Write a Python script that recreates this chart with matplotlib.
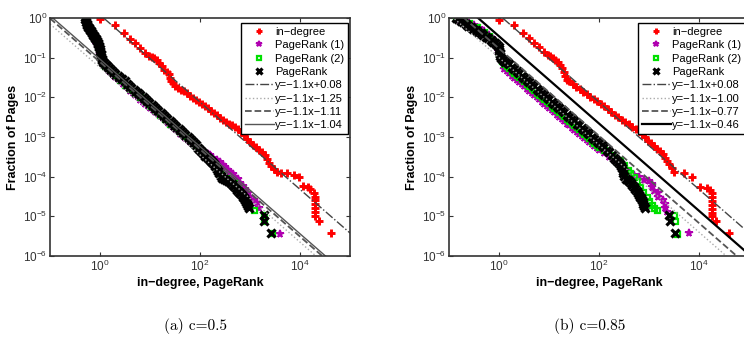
import matplotlib
matplotlib.use("Agg")
import matplotlib.pyplot as plt
import numpy as np

plt.rcParams['font.family'] = ['Liberation Sans', 'DejaVu Sans']
plt.rcParams['mathtext.fontset'] = 'custom'
plt.rcParams['mathtext.rm'] = 'Liberation Sans'
plt.rcParams['mathtext.it'] = 'Liberation Sans:italic'
plt.rcParams['mathtext.bf'] = 'Liberation Sans:bold'

# points as (log10 x, log10 y)
# ---- (a) c=0.5 ----
a_indeg = [(0.0, -0.03), (0.3, -0.18), (0.48, -0.37), (0.6, -0.52), (0.7, -0.64), (0.8, -0.76),
           (0.9, -0.89), (0.97, -0.95), (1.03, -0.98), (1.08, -1.02), (1.13, -1.06), (1.18, -1.13),
           (1.23, -1.22), (1.28, -1.3), (1.33, -1.36), (1.37, -1.42), (1.4, -1.5), (1.41, -1.58),
           (1.45, -1.65), (1.5, -1.71), (1.56, -1.76), (1.62, -1.81), (1.68, -1.85), (1.74, -1.9),
           (1.8, -1.97), (1.86, -2.02), (1.92, -2.07), (1.98, -2.12), (2.04, -2.17), (2.1, -2.23),
           (2.16, -2.28), (2.22, -2.34), (2.28, -2.4), (2.34, -2.45), (2.4, -2.51), (2.46, -2.57),
           (2.52, -2.62), (2.58, -2.66), (2.64, -2.7), (2.7, -2.74), (2.76, -2.8), (2.82, -2.87),
           (2.88, -2.95), (2.94, -3.04), (3.0, -3.13), (3.06, -3.2), (3.12, -3.26), (3.18, -3.32),
           (3.24, -3.37), (3.29, -3.45), (3.33, -3.55), (3.37, -3.65), (3.42, -3.72), (3.48, -3.8),
           (3.54, -3.87), (3.62, -3.9), (3.73, -3.91), (3.87, -3.95), (3.97, -4.0), (4.05, -4.23),
           (4.15, -4.27), (4.2, -4.32), (4.27, -4.4), (4.3, -4.5), (4.3, -4.6), (4.3, -4.7), (4.3, -4.8),
           (4.3, -4.9), (4.3, -5.0), (4.37, -5.13), (4.62, -5.42)]

a_pr1 = [(-0.3, 0.02), (-0.25, -0.2), (-0.2, -0.33), (-0.15, -0.45), (-0.1, -0.58), (-0.05, -0.72),
         (0.0, -0.9), (0.05, -1.12), (0.1, -1.24), (0.15, -1.32), (0.2, -1.37), (0.25, -1.43), (0.3, -1.49),
         (0.35, -1.54), (0.4, -1.6), (0.45, -1.66), (0.5, -1.72), (0.55, -1.77), (0.6, -1.83), (0.65, -1.89),
         (0.7, -1.95), (0.75, -2.0), (0.8, -2.06), (0.85, -2.11), (0.9, -2.16), (0.95, -2.22), (1.0, -2.27),
         (1.05, -2.32), (1.1, -2.37), (1.15, -2.43), (1.2, -2.48), (1.25, -2.53), (1.3, -2.58), (1.35, -2.64),
         (1.4, -2.69), (1.45, -2.75), (1.5, -2.8), (1.55, -2.86), (1.6, -2.92), (1.65, -2.97), (1.7, -3.03),
         (1.75, -3.08), (1.8, -3.13), (1.85, -3.18), (1.9, -3.22), (1.95, -3.27), (2.0, -3.32), (2.05, -3.36),
         (2.1, -3.4), (2.15, -3.43), (2.2, -3.46), (2.26, -3.52), (2.33, -3.58), (2.39, -3.64), (2.45, -3.7),
         (2.5, -3.76), (2.55, -3.82), (2.6, -3.88), (2.65, -3.94), (2.7, -4.0), (2.75, -4.05), (2.8, -4.16),
         (2.85, -4.23), (2.9, -4.3), (2.95, -4.4), (3.0, -4.5), (3.07, -4.58), (3.13, -4.67), (3.17, -4.8),
         (3.59, -5.44)]

a_pr2 = [(-0.3, 0.03), (0.03, -1.05), (0.1, -1.2), (0.2, -1.31), (0.3, -1.44), (0.4, -1.56), (0.5, -1.68),
         (0.6, -1.79), (0.7, -1.9), (0.8, -2.0), (0.9, -2.1), (1.0, -2.22), (1.1, -2.33), (1.2, -2.44),
         (1.3, -2.55), (1.4, -2.66), (1.5, -2.76), (1.6, -2.87), (1.7, -2.98), (1.8, -3.08), (1.9, -3.2),
         (2.0, -3.33), (2.1, -3.45), (2.2, -3.55), (2.3, -3.72), (2.4, -3.9), (2.53, -4.04), (2.6, -4.1),
         (2.67, -4.16), (2.75, -4.3), (2.85, -4.5), (2.95, -4.75), (3.07, -4.84), (3.27, -4.96),
         (3.27, -5.13), (3.43, -5.42)]

a_pr = [(-0.3, 0.02), (-0.3, -0.02), (-0.29, -0.06), (-0.28, -0.1), (-0.27, -0.14), (-0.26, -0.18),
        (-0.24, -0.22), (-0.23, -0.26), (-0.21, -0.3), (-0.19, -0.34), (-0.17, -0.38), (-0.15, -0.42),
        (-0.13, -0.46), (-0.11, -0.5), (-0.09, -0.54), (-0.07, -0.58), (-0.05, -0.62), (-0.04, -0.66),
        (-0.03, -0.7), (-0.02, -0.74), (-0.01, -0.78), (0.0, -0.82), (0.0, -0.86), (0.01, -0.9),
        (0.01, -0.94), (0.02, -0.98), (0.03, -1.03), (0.04, -1.07), (0.06, -1.11), (0.08, -1.14),
        (0.11, -1.18), (0.14, -1.22), (0.18, -1.26), (0.22, -1.3), (0.26, -1.35), (0.3, -1.4), (0.35, -1.45),
        (0.4, -1.5), (0.44, -1.55), (0.49, -1.6), (0.53, -1.66), (0.58, -1.71), (0.62, -1.76), (0.67, -1.81),
        (0.71, -1.86), (0.76, -1.9), (0.8, -1.95), (0.85, -2.0), (0.89, -2.05), (0.94, -2.1), (0.98, -2.15),
        (1.03, -2.2), (1.07, -2.25), (1.12, -2.3), (1.16, -2.35), (1.21, -2.4), (1.25, -2.45), (1.3, -2.5),
        (1.34, -2.55), (1.39, -2.6), (1.43, -2.65), (1.48, -2.7), (1.52, -2.75), (1.57, -2.8), (1.61, -2.85),
        (1.66, -2.9), (1.7, -2.95), (1.75, -3.0), (1.79, -3.05), (1.83, -3.1), (1.87, -3.15), (1.91, -3.21),
        (1.95, -3.27), (1.99, -3.33), (2.03, -3.38), (2.07, -3.43), (2.1, -3.47), (2.14, -3.51),
        (2.17, -3.55), (2.21, -3.6), (2.24, -3.64), (2.27, -3.69), (2.3, -3.74), (2.33, -3.8), (2.36, -3.86),
        (2.38, -3.92), (2.41, -3.98), (2.44, -4.03), (2.47, -4.05), (2.51, -4.08), (2.55, -4.1),
        (2.59, -4.13), (2.62, -4.16), (2.65, -4.2), (2.68, -4.24), (2.71, -4.29), (2.74, -4.33),
        (2.77, -4.38), (2.8, -4.42), (2.83, -4.46), (2.85, -4.5), (2.88, -4.55), (2.9, -4.6), (2.92, -4.65),
        (2.94, -4.7), (2.96, -4.75), (2.97, -4.79), (3.27, -4.96), (3.27, -5.13), (3.41, -5.42)]

a_fit_b = [0.08, -1.25, -1.11, -1.04]

# ---- (b) c=0.85 ----
b_indeg = [(0.0, -0.05), (0.3, -0.18), (0.47, -0.37), (0.6, -0.51), (0.7, -0.64), (0.8, -0.72),
           (0.9, -0.85), (0.97, -0.93), (1.02, -0.97), (1.07, -1.01), (1.12, -1.06), (1.17, -1.12),
           (1.22, -1.18), (1.26, -1.27), (1.29, -1.36), (1.32, -1.46), (1.35, -1.56), (1.4, -1.6),
           (1.47, -1.67), (1.54, -1.74), (1.61, -1.8), (1.68, -1.86), (1.75, -1.92), (1.82, -1.98),
           (1.89, -2.04), (1.96, -2.1), (2.03, -2.16), (2.1, -2.23), (2.17, -2.3), (2.24, -2.37),
           (2.31, -2.44), (2.38, -2.5), (2.45, -2.57), (2.52, -2.63), (2.59, -2.68), (2.66, -2.74),
           (2.73, -2.8), (2.8, -2.86), (2.86, -2.93), (2.92, -3.01), (2.98, -3.09), (3.04, -3.15),
           (3.1, -3.22), (3.16, -3.3), (3.22, -3.36), (3.27, -3.42), (3.32, -3.52), (3.36, -3.6),
           (3.4, -3.68), (3.45, -3.78), (3.5, -3.87), (3.7, -3.91), (3.86, -4.0), (4.02, -4.25),
           (4.16, -4.29), (4.22, -4.34), (4.26, -4.42), (4.26, -4.52), (4.26, -4.62), (4.26, -4.72),
           (4.26, -4.82), (4.26, -4.92), (4.26, -5.0), (4.33, -5.13), (4.6, -5.42)]

b_pr1 = [(-0.87, 0.0), (-0.8, -0.04), (-0.7, -0.08), (-0.6, -0.12), (-0.5, -0.17), (-0.4, -0.25),
         (-0.3, -0.33), (-0.2, -0.42), (-0.15, -0.5), (-0.1, -0.6), (-0.05, -0.75), (0.0, -0.9),
         (0.02, -1.0), (0.06, -1.12), (0.1, -1.28), (0.15, -1.34), (0.2, -1.39), (0.25, -1.45), (0.3, -1.5),
         (0.35, -1.56), (0.4, -1.61), (0.45, -1.67), (0.5, -1.72), (0.55, -1.78), (0.6, -1.83), (0.65, -1.89),
         (0.7, -1.94), (0.75, -2.0), (0.8, -2.05), (0.85, -2.11), (0.9, -2.16), (0.95, -2.22), (1.0, -2.27),
         (1.05, -2.33), (1.1, -2.38), (1.15, -2.44), (1.2, -2.49), (1.25, -2.55), (1.3, -2.6), (1.35, -2.66),
         (1.4, -2.71), (1.45, -2.77), (1.5, -2.82), (1.55, -2.88), (1.6, -2.93), (1.65, -2.98), (1.7, -3.03),
         (1.75, -3.08), (1.8, -3.13), (1.85, -3.18), (1.9, -3.23), (1.95, -3.28), (2.0, -3.32), (2.1, -3.4),
         (2.2, -3.5), (2.3, -3.58), (2.4, -3.66), (2.5, -3.78), (2.6, -3.88), (2.7, -3.97), (2.8, -4.02),
         (2.9, -4.08), (3.0, -4.12), (3.05, -4.18), (3.05, -4.27), (3.1, -4.35), (3.18, -4.42), (3.18, -4.5),
         (3.27, -4.58), (3.32, -4.68), (3.32, -4.78), (3.35, -4.88), (3.8, -5.42)]

b_pr2 = [(-0.87, 0.0), (-0.7, -0.07), (-0.6, -0.12), (-0.45, -0.22), (-0.3, -0.35), (-0.2, -0.45),
         (-0.1, -0.6), (0.0, -0.9), (0.05, -1.08), (0.1, -1.16), (0.15, -1.22), (0.2, -1.27), (0.25, -1.33),
         (0.3, -1.38), (0.35, -1.44), (0.4, -1.49), (0.45, -1.55), (0.5, -1.6), (0.55, -1.66), (0.6, -1.71),
         (0.65, -1.77), (0.7, -1.82), (0.75, -1.88), (0.8, -1.93), (0.85, -1.99), (0.9, -2.04), (0.95, -2.1),
         (1.0, -2.15), (1.05, -2.21), (1.1, -2.26), (1.15, -2.32), (1.2, -2.37), (1.25, -2.43), (1.3, -2.48),
         (1.35, -2.54), (1.4, -2.59), (1.45, -2.65), (1.5, -2.7), (1.55, -2.76), (1.6, -2.81), (1.65, -2.87),
         (1.7, -2.92), (1.75, -2.98), (1.8, -3.03), (1.85, -3.09), (1.9, -3.14), (1.95, -3.2), (2.0, -3.25),
         (2.1, -3.34), (2.25, -3.46), (2.42, -3.58), (2.5, -3.7), (2.57, -3.82), (2.62, -3.91), (2.7, -4.0),
         (2.76, -4.12), (2.82, -4.25), (2.88, -4.38), (2.95, -4.5), (3.0, -4.62), (3.05, -4.71),
         (3.1, -4.78), (3.15, -4.84), (3.49, -4.96), (3.52, -5.13), (3.55, -5.44)]

b_pr = [(-0.87, 0.0), (-0.82, -0.03), (-0.77, -0.07), (-0.72, -0.11), (-0.67, -0.15), (-0.62, -0.19),
        (-0.57, -0.23), (-0.52, -0.27), (-0.47, -0.31), (-0.42, -0.35), (-0.37, -0.39), (-0.32, -0.43),
        (-0.27, -0.47), (-0.22, -0.51), (-0.17, -0.55), (-0.12, -0.6), (-0.08, -0.64), (-0.04, -0.68),
        (-0.01, -0.72), (0.0, -0.77), (0.0, -0.82), (0.01, -0.87), (0.01, -0.92), (0.02, -0.97),
        (0.04, -1.02), (0.07, -1.06), (0.11, -1.1), (0.15, -1.12), (0.2, -1.17), (0.25, -1.23), (0.3, -1.28),
        (0.35, -1.34), (0.4, -1.39), (0.45, -1.45), (0.5, -1.5), (0.55, -1.56), (0.6, -1.61), (0.65, -1.67),
        (0.7, -1.72), (0.75, -1.78), (0.8, -1.83), (0.85, -1.89), (0.9, -1.94), (0.95, -2.0), (1.0, -2.05),
        (1.05, -2.11), (1.1, -2.16), (1.15, -2.22), (1.2, -2.27), (1.25, -2.33), (1.3, -2.38), (1.35, -2.44),
        (1.4, -2.49), (1.45, -2.55), (1.5, -2.6), (1.55, -2.66), (1.6, -2.71), (1.65, -2.77), (1.7, -2.82),
        (1.75, -2.88), (1.8, -2.93), (1.85, -2.99), (1.9, -3.04), (1.95, -3.1), (2.0, -3.15), (2.05, -3.21),
        (2.1, -3.26), (2.15, -3.32), (2.2, -3.38), (2.25, -3.45), (2.3, -3.52), (2.34, -3.57), (2.38, -3.62),
        (2.41, -3.67), (2.44, -3.72), (2.46, -3.78), (2.47, -3.85), (2.48, -3.92), (2.49, -3.98),
        (2.53, -4.06), (2.57, -4.09), (2.6, -4.12), (2.63, -4.16), (2.66, -4.2), (2.69, -4.25), (2.72, -4.3),
        (2.75, -4.35), (2.77, -4.4), (2.8, -4.45), (2.82, -4.5), (2.84, -4.55), (2.85, -4.6), (2.87, -4.65),
        (2.88, -4.7), (2.9, -4.75), (2.92, -4.79), (3.39, -4.96), (3.42, -5.13), (3.51, -5.42)]

b_fit_b = [0.08, -1.00, -0.77, -0.46]

fit_slope = -1.1
fit_styles = [('-.', '#444444', 1.0), (':', '#aaaaaa', 1.0), ('--', '#555555', 1.3)]


def pts(series):
    arr = np.array(series).T
    return 10 ** arr[0], 10 ** arr[1]


def draw_panel(ax, indeg, pr1, pr2, pr, fit_b, solid_color, solid_lw):
    ax.plot(*pts(indeg), '+', color='red', ms=6, mew=2.1, label='in\u2212degree')
    ax.plot(*pts(pr1), '*', color='#b000b0', ms=5.5, mew=1.3, label='PageRank (1)')
    ax.plot(*pts(pr2), 's', mfc='none', mec='#00e000', ms=3.6, mew=1.6, label='PageRank (2)')
    ax.plot(*pts(pr), 'x', color='black', ms=5.5, mew=2.3, label='PageRank')
    lx = np.array([-1.0, 5.0])
    styles = fit_styles + [('-', solid_color, solid_lw)]
    for b, (ls, c, lw) in zip(fit_b, styles):
        lab = 'y=\u22121.1x%s%.2f' % ('+' if b >= 0 else '\u2212', abs(b))
        ax.plot(10 ** lx, 10 ** (fit_slope * lx + b), ls=ls, color=c, lw=lw, label=lab)
    ax.set_xscale('log')
    ax.set_yscale('log')
    ax.set_xlim(1e-1, 1e5)
    ax.set_ylim(1e-6, 1)
    ax.set_xticks([1, 1e2, 1e4])
    ax.set_yticks([1e-6, 1e-5, 1e-4, 1e-3, 1e-2, 1e-1, 1])
    ax.minorticks_off()
    ax.tick_params(direction='in', top=True, right=True, length=3, labelsize=8.5, colors='#333333',
                   labelcolor='#333333', pad=2)
    for s in ax.spines.values():
        s.set_color('#333333')
        s.set_linewidth(1.2)
    ax.set_xlabel('in\u2212degree, PageRank', fontsize=9, fontweight='bold', labelpad=2)
    ax.set_ylabel('Fraction of Pages', fontsize=9, fontweight='bold', labelpad=3)


fig = plt.figure(figsize=(7.44, 3.52), dpi=100)
ax1 = fig.add_axes([50 / 744, 1 - 256 / 352, 300 / 744, 238 / 352])
ax2 = fig.add_axes([449 / 744, 1 - 256 / 352, 300 / 744, 238 / 352])

draw_panel(ax1, a_indeg, a_pr1, a_pr2, a_pr, a_fit_b, '#555555', 1.0)
draw_panel(ax2, b_indeg, b_pr1, b_pr2, b_pr, b_fit_b, 'black', 1.6)

leg_kw = dict(fontsize=8, numpoints=1, fancybox=False, framealpha=1, edgecolor='black', markerscale=0.75,
              borderpad=0.35, labelspacing=0.3, handlelength=2.6, handletextpad=0.1, borderaxespad=0)
l1 = ax1.legend(loc='upper right', bbox_to_anchor=(0.993, 0.979), **leg_kw)
l2 = ax2.legend(loc='upper left', bbox_to_anchor=(0.63, 0.979), **leg_kw)
for lg in (l1, l2):
    lg.get_frame().set_linewidth(1.0)

fig.text(195 / 744, 1 - 326 / 352, '(a) c=0.5', family='cmr10', fontsize=11, ha='center', va='center')
fig.text(590 / 744, 1 - 326 / 352, '(b) c=0.85', family='cmr10', fontsize=11, ha='center', va='center')

fig.savefig('out.png', dpi=100)
